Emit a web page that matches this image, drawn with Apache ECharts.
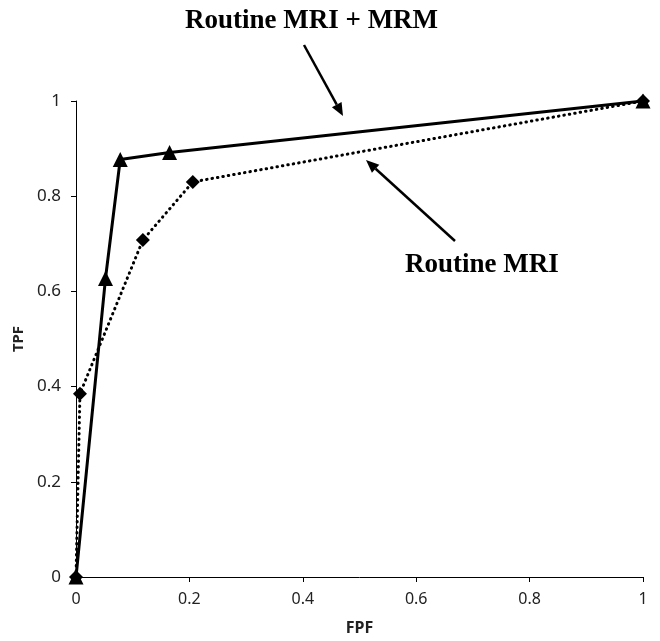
<!DOCTYPE html>
<html>
<head>
<meta charset="utf-8">
<script src="https://cdn.jsdelivr.net/npm/echarts@6/dist/echarts.min.js"></script>
<style>
  html, body { margin: 0; padding: 0; background: #fff; }
  #chart { width: 660px; height: 641px; }
</style>
</head>
<body>
<div id="chart"></div>
<script>
// ROC points: [FPF, TPF]
var mriMrmPoints = [[0, 0], [0.052, 0.627], [0.078, 0.877], [0.165, 0.892], [1, 1]];
var mriPoints = [[0, 0], [0.007, 0.385], [0.118, 0.708], [0.206, 0.83], [1, 1]];
var xTicks = [0, 0.2, 0.4, 0.6, 0.8, 1];
var yTicks = [0, 0.2, 0.4, 0.6, 0.8, 1];

var myChart = echarts.init(document.getElementById('chart'));

// arrow = line + filled head (annotation only)
function arrow(x1, y1, x2, y2) {
  var dx = x2 - x1, dy = y2 - y1;
  var len = Math.sqrt(dx * dx + dy * dy);
  var ux = dx / len, uy = dy / len;
  var hl = 13, hw = 5.5;
  var bx = x2 - ux * hl, by = y2 - uy * hl;
  return [{
    type: 'line',
    shape: { x1: x1, y1: y1, x2: bx, y2: by },
    style: { stroke: '#000', lineWidth: 2.5 }
  }, {
    type: 'polygon',
    shape: { points: [[x2, y2], [bx - uy * hw, by + ux * hw], [bx + uy * hw, by - ux * hw]] },
    style: { fill: '#000' }
  }];
}

var labelColor = '#222';
var option = {
  animation: false,
  backgroundColor: '#fff',
  grid: { left: 76, right: 17, top: 101, bottom: 60 },
  xAxis: {
    type: 'value',
    min: 0, max: 1, interval: 0.2,
    name: 'FPF',
    nameLocation: 'middle',
    nameGap: 43,
    nameTextStyle: { fontFamily: 'Noto Sans', fontWeight: 'bold', fontSize: 16, color: labelColor },
    axisLine: { lineStyle: { color: '#000', width: 1 } },
    axisTick: { show: true, length: 5, lineStyle: { color: '#000' } },
    splitLine: { show: false },
    axisLabel: {
      margin: 14, fontFamily: 'Noto Sans', fontSize: 16, color: labelColor,
      formatter: function (v) { return xTicks.indexOf(+v.toFixed(1)) >= 0 ? String(+v.toFixed(1)) : ''; }
    }
  },
  yAxis: {
    type: 'value',
    min: 0, max: 1, interval: 0.2,
    name: 'TPF',
    nameLocation: 'middle',
    nameGap: 49,
    nameTextStyle: { fontFamily: 'Noto Sans', fontWeight: 'bold', fontSize: 15, color: labelColor },
    axisLine: { show: true, lineStyle: { color: '#000', width: 1 } },
    axisTick: { show: true, length: 5, lineStyle: { color: '#000' } },
    splitLine: { show: false },
    axisLabel: {
      margin: 15, fontFamily: 'Noto Sans', fontSize: 17, color: labelColor,
      formatter: function (v) { return yTicks.indexOf(+v.toFixed(1)) >= 0 ? String(+v.toFixed(1)) : ''; }
    }
  },
  series: [{
    name: 'Routine MRI',
    type: 'line',
    data: mriPoints,
    symbol: 'diamond',
    symbolSize: 14,
    showAllSymbol: true,
    itemStyle: { color: '#000' },
    lineStyle: { color: '#000', width: 3, type: [0.5, 5], cap: 'round' },
    z: 2
  }, {
    name: 'Routine MRI + MRM',
    type: 'line',
    data: mriMrmPoints,
    symbol: 'triangle',
    symbolSize: 15,
    showAllSymbol: true,
    itemStyle: { color: '#000' },
    lineStyle: { color: '#000', width: 3 },
    z: 3
  }],
  graphic: [{
    type: 'text',
    left: 185, top: 8,
    style: { text: 'Routine MRI + MRM', font: 'bold 27px "Liberation Serif"', fill: '#000' }
  }, {
    type: 'text',
    left: 405, top: 252,
    style: { text: 'Routine MRI', font: 'bold 27px "Liberation Serif"', fill: '#000' }
  }].concat(arrow(304, 45, 343, 116), arrow(455, 241, 366, 160))
};
myChart.setOption(option);
</script>
</body>
</html>
